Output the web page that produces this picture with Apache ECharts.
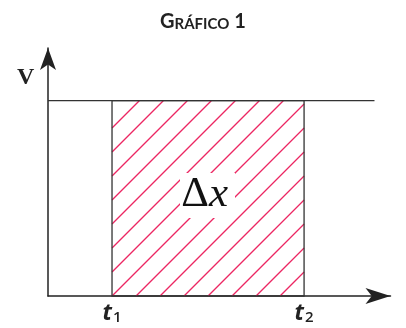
<!DOCTYPE html>
<html>
<head>
<meta charset="utf-8">
<script src="https://cdn.jsdelivr.net/npm/echarts@6/dist/echarts.min.js"></script>
<style>
html, body { margin: 0; padding: 0; background: #fff; }
#main { width: 406px; height: 328px; }
</style>
</head>
<body>
<div id="main"></div>
<script>
// instantes marcados no eixo x
var t1 = 1;
var t2 = 4;
var tickValues = [t1, t2];
var tickSubs = ['1', '2'];
// velocidade constante
var speed = 1;
var speedLine = [[0, speed], [5.1, speed]];
// area sob a curva (t1, t2, V)
var area = [[t1, t2, speed]];

var hatchColor = '#ec2763';

var chart = echarts.init(document.getElementById('main'));

var option = {
  animation: false,
  title: {
    text: '{g|G}{s|RÁFICO} {g|1}',
    left: 'center',
    top: 7,
    textStyle: {
      rich: {
        g: { fontSize: 20, fontFamily: 'Lato', color: '#222', verticalAlign: 'bottom' },
        s: { fontSize: 15, fontFamily: 'Lato', color: '#222', verticalAlign: 'bottom' }
      }
    }
  },
  grid: {
    left: 48,
    top: 48,
    right: 15.5,
    bottom: 32
  },
  xAxis: {
    type: 'value',
    min: 0,
    max: 5.35,
    axisLine: {
      show: true,
      symbol: ['none', 'arrow'],
      symbolSize: [12, 25],
      lineStyle: { color: '#222', width: 1.5 }
    },
    axisTick: { show: false },
    splitLine: { show: false },
    axisLabel: {
      customValues: tickValues,
      margin: 5,
      formatter: function (v) {
        var i = tickValues.indexOf(v);
        return '{t|t}{s|' + tickSubs[i] + '}';
      },
      rich: {
        t: { fontSize: 23, fontFamily: 'Open Sans', fontStyle: 'italic', fontWeight: 'bold', color: '#222' },
        s: { fontSize: 15, fontFamily: 'Open Sans', fontWeight: 600, color: '#222', padding: [9, 0, 0, 1] }
      }
    }
  },
  yAxis: {
    type: 'value',
    min: 0,
    max: 1.27,
    axisLine: {
      show: true,
      symbol: ['none', 'arrow'],
      symbolSize: [12, 22],
      lineStyle: { color: '#222', width: 1.5 }
    },
    axisTick: { show: false },
    axisLabel: { show: false },
    splitLine: { show: false }
  },
  graphic: [
    {
      type: 'text',
      left: 17,
      top: 66,
      style: { text: 'V', font: 'bold 24px "Liberation Serif"', fill: '#222' }
    },
    {
      type: 'rect',
      z: 100,
      shape: { x: 180, y: 173, width: 55, height: 45 },
      style: { fill: '#fff' }
    },
    {
      type: 'text',
      z: 101,
      x: 209,
      y: 195,
      style: {
        text: 'Δ',
        font: '43px "Liberation Serif"',
        fill: '#111',
        align: 'right',
        verticalAlign: 'middle'
      }
    },
    {
      type: 'text',
      z: 101,
      x: 209,
      y: 195,
      style: {
        text: 'x',
        font: 'italic 43px "Liberation Serif"',
        fill: '#111',
        align: 'left',
        verticalAlign: 'middle'
      }
    }
  ],
  series: [
    {
      type: 'line',
      data: speedLine,
      symbol: 'none',
      lineStyle: { color: '#333', width: 1.3 },
      silent: true
    },
    {
      type: 'custom',
      data: area,
      itemStyle: { color: hatchColor },
      silent: true,
      renderItem: function (params, api) {
        var a = api.coord([api.value(0), 0]);
        var b = api.coord([api.value(1), api.value(2)]);
        var x0 = a[0], yb = a[1], x1 = b[0], yt = b[1];
        var w = x1 - x0, h = yb - yt;
        var step = 24;
        var children = [];
        // hachura diagonal
        for (var d = -Math.floor(h / step) * step; d < w; d += step) {
          var ts = Math.max(0, -d), te = Math.min(w - d, h);
          if (te - ts < 8) continue;
          children.push({
            type: 'line',
            shape: { x1: x0 + d + ts, y1: yb - ts, x2: x0 + d + te, y2: yb - te },
            style: { stroke: hatchColor, fill: null, lineWidth: 1.3 }
          });
        }
        children.push({
          type: 'rect',
          shape: { x: x0, y: yt, width: w, height: h },
          style: { fill: null, stroke: '#333', lineWidth: 1.3 }
        });
        return { type: 'group', children: children };
      }
    }
  ]
};

chart.setOption(option);
</script>
</body>
</html>
